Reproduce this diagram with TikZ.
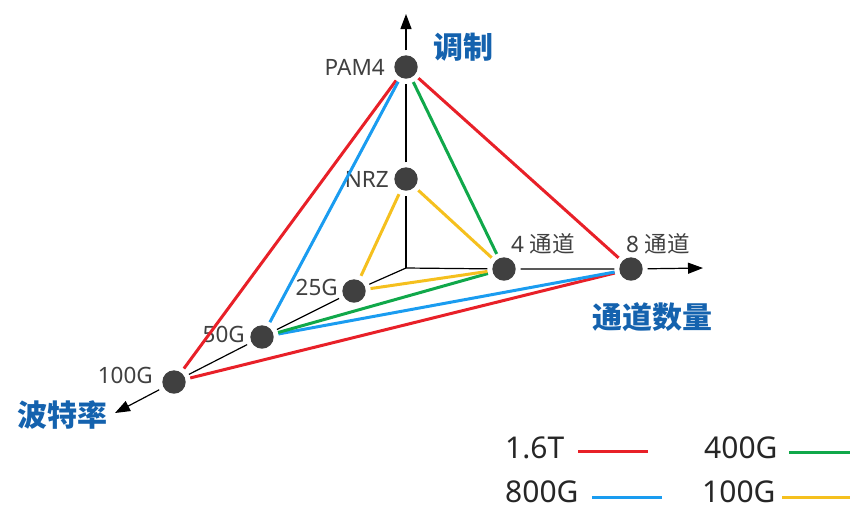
\documentclass[tikz,border=0pt]{standalone}
\usepackage{fontspec}
\setmainfont{Noto Sans}
\newfontfamily\cjk{Noto Sans CJK SC}
\usetikzlibrary{arrows.meta, positioning}

\definecolor{dotgray}{RGB}{64,64,64}
\definecolor{labgray}{RGB}{64,64,64}
\definecolor{axblue}{RGB}{20,98,174}
\definecolor{lred}{RGB}{232,32,40}
\definecolor{lblue}{RGB}{26,156,240}
\definecolor{lgreen}{RGB}{16,168,74}
\definecolor{lyellow}{RGB}{245,192,30}

\begin{document}
\begin{tikzpicture}[x=1pt, y=-1pt,
            dot/.style={circle, fill=dotgray, minimum size=23.4pt, inner sep=0pt, outer sep=5pt},
            lab/.style={text=labgray, font=\fontsize{22.5}{26}\selectfont, inner sep=0pt},
            axlab/.style={text=axblue, font=\cjk\bfseries\fontsize{30}{34}\selectfont, inner sep=0pt},
            legtext/.style={text=black!85, font=\fontsize{30}{34}\selectfont, inner sep=0pt},
            axis/.style={line width=1.2pt, black},
            axarrow/.style={axis, -{Triangle[length=15pt, width=11pt]}},
            rate/.style={line width=3pt}
        ]
            \useasboundingbox (0,0) rectangle (850,507);

            % Axes end points
            \coordinate (o) at (406,268);
            \coordinate (up) at (406,14);
            \coordinate (right) at (703,268);
            \coordinate (down) at (115,413);

            % Points
            \node[dot] (pam4) at (406,67) {};
            \node[dot] (nrz) at (406,179) {};
            \node[dot] (ch4) at (504,269) {};
            \node[dot] (ch8) at (631,269) {};
            \node[dot] (g25) at (354,291) {};
            \node[dot] (g50) at (262,337) {};
            \node[dot] (g100) at (174,382) {};

            % Point labels
            \node[lab, anchor=east] (pam4lab) at (385,67) {PAM4};
            \node[lab, anchor=east] (nrzlab) at (389,179) {NRZ};
            \node[lab, anchor=east] (g25lab) at (338,287) {25G};
            \node[lab, anchor=east] (g50lab) at (245,334) {50G};
            \node[lab, anchor=east] (g100lab) at (153,375) {100G};
            \node[lab, anchor=west] (ch4lab) at (511,244) {4 {\cjk 通道}};
            \node[lab, anchor=west] (ch8lab) at (626,244) {8 {\cjk 通道}};

            % Axis labels
            \node[axlab] (modlab) at (463,47) {调制};
            \node[axlab] (baudlab) at (62,415) {波特率};
            \node[axlab] (chlab) at (652,317) {通道数量};

            % Axes
            \draw[axis] (o) -- (nrz) (nrz) -- (pam4);
            \draw[axarrow] (pam4) -- (up);
            \draw[axis] (o) -- (ch4) (ch4) -- (ch8);
            \draw[axarrow] (ch8) -- (right);
            \draw[axis] (o) -- (g25) (g25) -- (g50) (g50) -- (g100);
            \draw[axarrow] (g100) -- (down);

            % 1.6T
            \draw[rate, lred] (pam4) -- (g100) (pam4) -- (ch8) (g100) -- (ch8);
            % 800G
            \draw[rate, lblue] (pam4) -- (g50) (g50) -- (ch8);
            % 400G
            \draw[rate, lgreen] (pam4) -- (ch4) (g50) -- (ch4);
            % 100G
            \draw[rate, lyellow] (nrz) -- (g25) (nrz) -- (ch4) (g25) -- (ch4);

            % Legend
            \node[legtext, anchor=west] (leg16) at (505,448) {1.6T};
            \node[legtext, anchor=west] (leg800) at (505,492) {800G};
            \node[legtext, anchor=west] (leg400) at (704,448) {400G};
            \node[legtext, anchor=west] (leg100) at (702,492) {100G};
            \draw[rate, lred] (578,451) -- (648,451);
            \draw[rate, lblue] (592,497) -- (662,497);
            \draw[rate, lgreen] (789,452) -- (850,452);
            \draw[rate, lyellow] (782,497) -- (850,497);
        \end{tikzpicture}
\end{document}
